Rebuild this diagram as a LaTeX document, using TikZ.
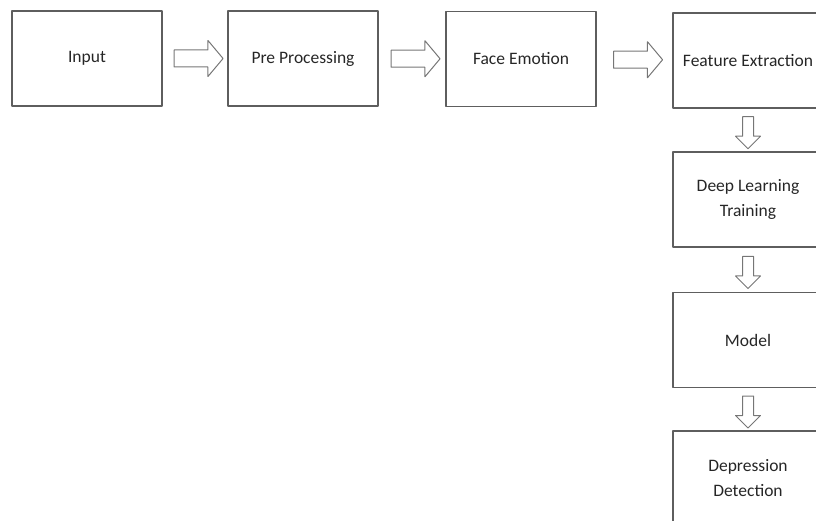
\documentclass[tikz,border=0pt]{standalone}
\usepackage{fontspec}
\setmainfont{Carlito}
\usetikzlibrary{shapes.arrows,calc}
\definecolor{boxgray}{HTML}{5E5E5E}
\definecolor{arrowgray}{HTML}{767676}

\begin{document}
\begin{tikzpicture}[x=1pt,y=-1pt, line join=round,
		box/.style={draw=boxgray, line width=1.3pt, minimum width=150pt, minimum height=95pt, inner sep=0pt, align=center, text=black!85, font=\fontsize{17.5}{25}\selectfont},
		harrow/.style={single arrow, draw=arrowgray, line width=1pt, minimum height=49pt, inner xsep=0pt, inner ysep=8pt, single arrow head extend=9.5pt, single arrow tip angle=100},
		varrow/.style={harrow, rotate=-90, minimum height=32pt, inner ysep=5pt, single arrow head extend=7pt, single arrow tip angle=90}]
			\useasboundingbox (0,0) rectangle (816,521);
			\clip (0,0) rectangle (816,521);
			% top row
			\node[box] (input) at (87,58.5) {Input};
			\node[box] (pre) at (303,58.5) {Pre Processing};
			\node[box] (face) at (521,59) {Face Emotion};
			\node[box] (feat) at (748,60.5) {Feature Extraction};
			% right column
			\node[box] (deep) at (748,199.5) {Deep Learning\\Training};
			\node[box] (model) at (748,340) {Model};
			\node[box] (depr) at (748,478.5) {Depression\\Detection};
			% arrows
			\node[harrow] (inpre) at ($(input.east)!.5!(pre.west)$) {};
			\node[harrow] (preface) at ($(pre.east)!.5!(face.west)$) {};
			\node[harrow] (facefeat) at ($(face.east)!.5!(feat.west)$) {};
			\node[varrow] (featdeep) at ($(feat.south)!.5!(deep.north)$) {};
			\node[varrow] (deepmodel) at ($(deep.south)!.5!(model.north)$) {};
			\node[varrow] (modeldepr) at ($(model.south)!.5!(depr.north)$) {};
		\end{tikzpicture}
\end{document}
